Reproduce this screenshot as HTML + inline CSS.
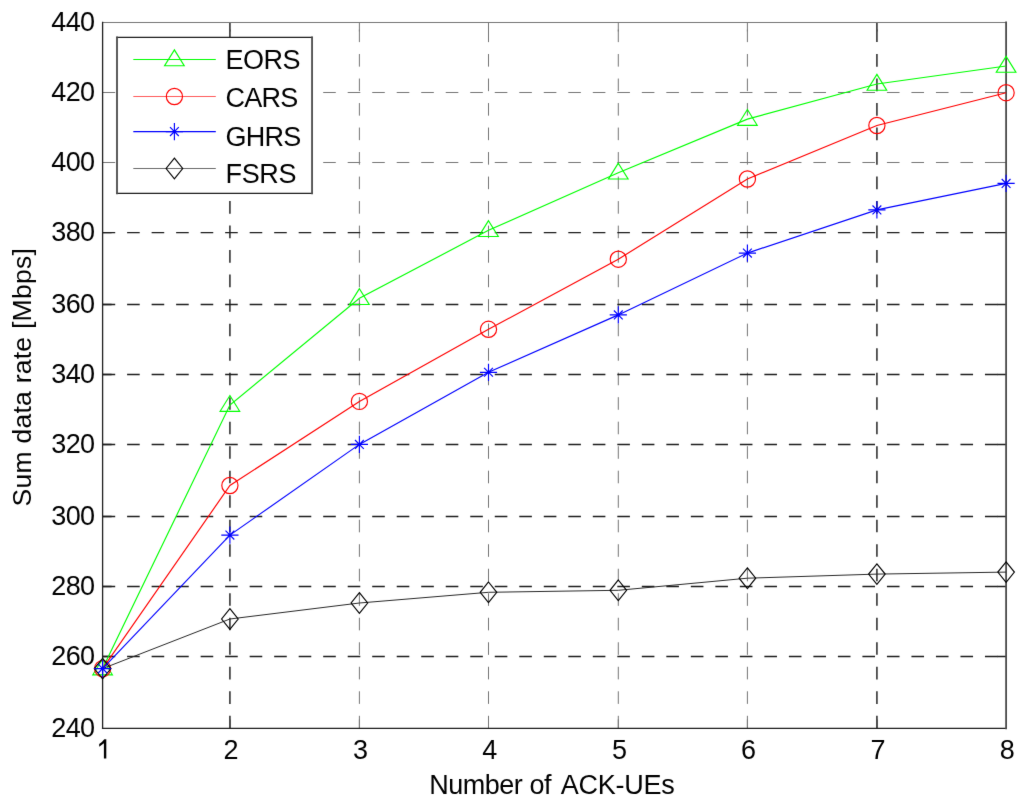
<!DOCTYPE html>
<html><head><meta charset="utf-8"><style>
html,body{margin:0;padding:0;background:#fff;overflow:hidden;}
svg{display:block;}
.t{font-family:"Liberation Sans",sans-serif;font-size:27px;fill:#000;}
</style></head><body>
<svg width="1024" height="805" viewBox="0 0 1024 805">
<defs><filter id="bl" filterUnits="userSpaceOnUse" x="0" y="0" width="1024" height="805" color-interpolation-filters="sRGB"><feConvolveMatrix order="3" kernelMatrix="0.00524 0.06192 0.00524 0.06192 0.73137 0.06192 0.00524 0.06192 0.00524" preserveAlpha="true"/></filter></defs>
<rect width="1024" height="805" fill="#fff"/>
<g filter="url(#bl)">
<rect width="1024" height="805" fill="#fff"/>
<path d="M229.9 728.4V22.5" stroke="#4a4a4a" stroke-width="1.8" stroke-dasharray="12.6 11.91" fill="none"/>
<path d="M229.9 728.4v-9M229.9 22.5v9" stroke="#4a4a4a" stroke-width="1.8" fill="none"/>
<path d="M359.4 728.4V22.5" stroke="#767676" stroke-width="1.0" stroke-dasharray="12.6 11.91" fill="none"/>
<path d="M359.4 728.4v-9M359.4 22.5v9" stroke="#767676" stroke-width="1.0" fill="none"/>
<path d="M488.5 728.4V22.5" stroke="#767676" stroke-width="1.0" stroke-dasharray="12.6 11.91" fill="none"/>
<path d="M488.5 728.4v-9M488.5 22.5v9" stroke="#767676" stroke-width="1.0" fill="none"/>
<path d="M618.3 728.4V22.5" stroke="#767676" stroke-width="1.0" stroke-dasharray="12.6 11.91" fill="none"/>
<path d="M618.3 728.4v-9M618.3 22.5v9" stroke="#767676" stroke-width="1.0" fill="none"/>
<path d="M747.4 728.4V22.5" stroke="#767676" stroke-width="1.0" stroke-dasharray="12.6 11.91" fill="none"/>
<path d="M747.4 728.4v-9M747.4 22.5v9" stroke="#767676" stroke-width="1.0" fill="none"/>
<path d="M876.9 728.4V22.5" stroke="#4a4a4a" stroke-width="1.8" stroke-dasharray="12.6 11.91" fill="none"/>
<path d="M876.9 728.4v-9M876.9 22.5v9" stroke="#4a4a4a" stroke-width="1.8" fill="none"/>
<path d="M102.6 656.5H1006.1" stroke="#1e1e1e" stroke-width="1.3" stroke-dasharray="12.6 11.91" fill="none"/>
<path d="M102.6 656.5h9M1006.1 656.5h-9" stroke="#1e1e1e" stroke-width="1.3" fill="none"/>
<path d="M102.6 586.5H1006.1" stroke="#1e1e1e" stroke-width="1.3" stroke-dasharray="12.6 11.91" fill="none"/>
<path d="M102.6 586.5h9M1006.1 586.5h-9" stroke="#1e1e1e" stroke-width="1.3" fill="none"/>
<path d="M102.6 516.5H1006.1" stroke="#1e1e1e" stroke-width="1.3" stroke-dasharray="12.6 11.91" fill="none"/>
<path d="M102.6 516.5h9M1006.1 516.5h-9" stroke="#1e1e1e" stroke-width="1.3" fill="none"/>
<path d="M102.6 444.5H1006.1" stroke="#1e1e1e" stroke-width="1.3" stroke-dasharray="12.6 11.91" fill="none"/>
<path d="M102.6 444.5h9M1006.1 444.5h-9" stroke="#1e1e1e" stroke-width="1.3" fill="none"/>
<path d="M102.6 374.5H1006.1" stroke="#1e1e1e" stroke-width="1.3" stroke-dasharray="12.6 11.91" fill="none"/>
<path d="M102.6 374.5h9M1006.1 374.5h-9" stroke="#1e1e1e" stroke-width="1.3" fill="none"/>
<path d="M102.6 304.5H1006.1" stroke="#1e1e1e" stroke-width="1.3" stroke-dasharray="12.6 11.91" fill="none"/>
<path d="M102.6 304.5h9M1006.1 304.5h-9" stroke="#1e1e1e" stroke-width="1.3" fill="none"/>
<path d="M102.6 232.6H1006.1" stroke="#1e1e1e" stroke-width="1.3" stroke-dasharray="12.6 11.91" fill="none"/>
<path d="M102.6 232.6h9M1006.1 232.6h-9" stroke="#1e1e1e" stroke-width="1.3" fill="none"/>
<path d="M102.6 162.5H1006.1" stroke="#767676" stroke-width="1.0" stroke-dasharray="12.6 11.91" fill="none"/>
<path d="M102.6 162.5h9M1006.1 162.5h-9" stroke="#767676" stroke-width="1.0" fill="none"/>
<path d="M102.6 92.5H1006.1" stroke="#767676" stroke-width="1.0" stroke-dasharray="12.6 11.91" fill="none"/>
<path d="M102.6 92.5h9M1006.1 92.5h-9" stroke="#767676" stroke-width="1.0" fill="none"/>
<path d="M102.6 22.5H1006.1" stroke="#767676" stroke-width="1.0" fill="none" stroke-linecap="square"/>
<path d="M102.6 728.4H1006.1" stroke="#1e1e1e" stroke-width="1.3" fill="none" stroke-linecap="square"/>
<path d="M102.6 22.5V728.4" stroke="#1e1e1e" stroke-width="1.3" fill="none" stroke-linecap="square"/>
<path d="M1006.1 22.5V728.4" stroke="#4a4a4a" stroke-width="1.8" fill="none" stroke-linecap="square"/>
<polyline points="102.6,668.6 229.9,405.1 359.4,298.3 488.5,230.3 618.3,172.8 747.4,119.1 876.9,84 1006.1,66" fill="none" stroke="#00ff00" stroke-width="1.15"/>
<path d="M102.6 659L112.4 674.8L92.8 674.8Z" fill="none" stroke="#00ff00" stroke-width="1.15" stroke-linejoin="miter"/>
<path d="M229.9 395.5L239.7 411.3L220.1 411.3Z" fill="none" stroke="#00ff00" stroke-width="1.15" stroke-linejoin="miter"/>
<path d="M359.4 288.7L369.2 304.5L349.6 304.5Z" fill="none" stroke="#00ff00" stroke-width="1.15" stroke-linejoin="miter"/>
<path d="M488.5 220.7L498.3 236.5L478.7 236.5Z" fill="none" stroke="#00ff00" stroke-width="1.15" stroke-linejoin="miter"/>
<path d="M618.3 163.2L628.1 179L608.5 179Z" fill="none" stroke="#00ff00" stroke-width="1.15" stroke-linejoin="miter"/>
<path d="M747.4 109.5L757.2 125.3L737.6 125.3Z" fill="none" stroke="#00ff00" stroke-width="1.15" stroke-linejoin="miter"/>
<path d="M876.9 74.4L886.7 90.2L867.1 90.2Z" fill="none" stroke="#00ff00" stroke-width="1.15" stroke-linejoin="miter"/>
<path d="M1006.1 56.4L1015.9 72.2L996.3 72.2Z" fill="none" stroke="#00ff00" stroke-width="1.15" stroke-linejoin="miter"/>
<polyline points="102.6,668.6 229.9,485.5 359.4,401.4 488.5,329.3 618.3,259.2 747.4,179 876.9,125.5 1006.1,92.7" fill="none" stroke="#ff0000" stroke-width="1.15"/>
<circle cx="102.6" cy="668.6" r="8.1" fill="none" stroke="#ff0000" stroke-width="1.15"/>
<circle cx="229.9" cy="485.5" r="8.1" fill="none" stroke="#ff0000" stroke-width="1.15"/>
<circle cx="359.4" cy="401.4" r="8.1" fill="none" stroke="#ff0000" stroke-width="1.15"/>
<circle cx="488.5" cy="329.3" r="8.1" fill="none" stroke="#ff0000" stroke-width="1.15"/>
<circle cx="618.3" cy="259.2" r="8.1" fill="none" stroke="#ff0000" stroke-width="1.15"/>
<circle cx="747.4" cy="179" r="8.1" fill="none" stroke="#ff0000" stroke-width="1.15"/>
<circle cx="876.9" cy="125.5" r="8.1" fill="none" stroke="#ff0000" stroke-width="1.15"/>
<circle cx="1006.1" cy="92.7" r="8.1" fill="none" stroke="#ff0000" stroke-width="1.15"/>
<polyline points="102.6,668.6 229.9,619 359.4,603 488.5,592.3 618.3,590.3 747.4,578.2 876.9,574.1 1006.1,572.1" fill="none" stroke="#2a2a2a" stroke-width="1.0"/>
<path d="M102.6 658.3L110.9 668.6L102.6 678.9L94.3 668.6Z" fill="none" stroke="#000000" stroke-width="1.15"/>
<path d="M229.9 608.7L238.2 619L229.9 629.3L221.6 619Z" fill="none" stroke="#000000" stroke-width="1.15"/>
<path d="M359.4 592.7L367.7 603L359.4 613.3L351.1 603Z" fill="none" stroke="#000000" stroke-width="1.15"/>
<path d="M488.5 582L496.8 592.3L488.5 602.6L480.2 592.3Z" fill="none" stroke="#000000" stroke-width="1.15"/>
<path d="M618.3 580L626.6 590.3L618.3 600.6L610 590.3Z" fill="none" stroke="#000000" stroke-width="1.15"/>
<path d="M747.4 567.9L755.7 578.2L747.4 588.5L739.1 578.2Z" fill="none" stroke="#000000" stroke-width="1.15"/>
<path d="M876.9 563.8L885.2 574.1L876.9 584.4L868.6 574.1Z" fill="none" stroke="#000000" stroke-width="1.15"/>
<path d="M1006.1 561.8L1014.4 572.1L1006.1 582.4L997.8 572.1Z" fill="none" stroke="#000000" stroke-width="1.15"/>
<polyline points="102.6,668.6 229.9,535.1 359.4,444.4 488.5,372.3 618.3,314.9 747.4,253.1 876.9,209.9 1006.1,183.4" fill="none" stroke="#0000ff" stroke-width="1.15"/>
<path d="M94 668.6H111.2M102.6 660V677.2M98.2 664.2L107 673M98.2 673L107 664.2" stroke="#0000ff" stroke-width="1.15" fill="none"/>
<path d="M221.3 535.1H238.5M229.9 526.5V543.7M225.5 530.7L234.3 539.5M225.5 539.5L234.3 530.7" stroke="#0000ff" stroke-width="1.15" fill="none"/>
<path d="M350.8 444.4H368M359.4 435.8V453M355 440L363.8 448.8M355 448.8L363.8 440" stroke="#0000ff" stroke-width="1.15" fill="none"/>
<path d="M479.9 372.3H497.1M488.5 363.7V380.9M484.1 367.9L492.9 376.7M484.1 376.7L492.9 367.9" stroke="#0000ff" stroke-width="1.15" fill="none"/>
<path d="M609.7 314.9H626.9M618.3 306.3V323.5M613.9 310.5L622.7 319.3M613.9 319.3L622.7 310.5" stroke="#0000ff" stroke-width="1.15" fill="none"/>
<path d="M738.8 253.1H756M747.4 244.5V261.7M743 248.7L751.8 257.5M743 257.5L751.8 248.7" stroke="#0000ff" stroke-width="1.15" fill="none"/>
<path d="M868.3 209.9H885.5M876.9 201.3V218.5M872.5 205.5L881.3 214.3M872.5 214.3L881.3 205.5" stroke="#0000ff" stroke-width="1.15" fill="none"/>
<path d="M997.5 183.4H1014.7M1006.1 174.8V192M1001.7 179L1010.5 187.8M1001.7 187.8L1010.5 179" stroke="#0000ff" stroke-width="1.15" fill="none"/>
<rect x="117.0" y="37.4" width="195.05" height="156" fill="#fff"/>
<path d="M117.0 37.4H312.05" stroke="#1e1e1e" stroke-width="1.3" fill="none" stroke-linecap="square"/>
<path d="M117.0 193.4H312.05" stroke="#1e1e1e" stroke-width="1.3" fill="none" stroke-linecap="square"/>
<path d="M117.0 37.4V193.4" stroke="#4a4a4a" stroke-width="1.8" fill="none" stroke-linecap="square"/>
<path d="M312.05 37.4V193.4" stroke="#4a4a4a" stroke-width="1.8" fill="none" stroke-linecap="square"/>
<path d="M133.3 59.5H215.8" stroke="#00ff00" stroke-width="1.15"/>
<path d="M174.4 49.9L184.2 65.7L164.6 65.7Z" fill="none" stroke="#00ff00" stroke-width="1.15" stroke-linejoin="miter"/>
<text x="225.6" y="69.3" class="t" textLength="74.9" lengthAdjust="spacing">EORS</text>
<path d="M133.3 96.5H215.8" stroke="#ff5c5c" stroke-width="1.0"/>
<circle cx="174.4" cy="96.5" r="8.1" fill="none" stroke="#ff0000" stroke-width="1.15"/>
<text x="225.6" y="106.7" class="t" textLength="72.75" lengthAdjust="spacing">CARS</text>
<path d="M133.3 131.6H215.8" stroke="#0000ff" stroke-width="1.15"/>
<path d="M165.8 131.6H183M174.4 123V140.2M170 127.2L178.8 136M170 136L178.8 127.2" stroke="#0000ff" stroke-width="1.15" fill="none"/>
<text x="225.6" y="145.9" class="t" textLength="75.6" lengthAdjust="spacing">GHRS</text>
<path d="M133.3 168.5H215.8" stroke="#6c6c6c" stroke-width="1.0"/>
<path d="M174.4 158.2L182.7 168.5L174.4 178.8L166.1 168.5Z" fill="none" stroke="#000000" stroke-width="1.15"/>
<text x="225.6" y="183.1" class="t" textLength="70.8" lengthAdjust="spacing">FSRS</text>
<text x="95.1" y="736.6" class="t" text-anchor="end" textLength="43.8" lengthAdjust="spacing">240</text>
<text x="95.1" y="664.7" class="t" text-anchor="end" textLength="43.8" lengthAdjust="spacing">260</text>
<text x="95.1" y="594.7" class="t" text-anchor="end" textLength="43.8" lengthAdjust="spacing">280</text>
<text x="95.1" y="524.7" class="t" text-anchor="end" textLength="43.8" lengthAdjust="spacing">300</text>
<text x="95.1" y="452.7" class="t" text-anchor="end" textLength="43.8" lengthAdjust="spacing">320</text>
<text x="95.1" y="382.7" class="t" text-anchor="end" textLength="43.8" lengthAdjust="spacing">340</text>
<text x="95.1" y="312.7" class="t" text-anchor="end" textLength="43.8" lengthAdjust="spacing">360</text>
<text x="95.1" y="240.8" class="t" text-anchor="end" textLength="43.8" lengthAdjust="spacing">380</text>
<text x="95.1" y="170.7" class="t" text-anchor="end" textLength="43.8" lengthAdjust="spacing">400</text>
<text x="95.1" y="100.7" class="t" text-anchor="end" textLength="43.8" lengthAdjust="spacing">420</text>
<text x="95.1" y="30.7" class="t" text-anchor="end" textLength="43.8" lengthAdjust="spacing">440</text>
<path d="M106.3 758.4H103.9V743.2L99.2 746.7V744.0Q102.6 741.8 104.3 739.3H106.3Z" fill="#000"/>
<text x="231.1" y="758.9" class="t" text-anchor="middle">2</text>
<text x="360.6" y="758.9" class="t" text-anchor="middle">3</text>
<text x="489.7" y="758.9" class="t" text-anchor="middle">4</text>
<text x="619.5" y="758.9" class="t" text-anchor="middle">5</text>
<text x="748.6" y="758.9" class="t" text-anchor="middle">6</text>
<text x="878.1" y="758.9" class="t" text-anchor="middle">7</text>
<text x="1007.3" y="758.9" class="t" text-anchor="middle">8</text>
<text x="429.3" y="794" class="t" textLength="93.4" lengthAdjust="spacing">Number</text>
<text x="529.4" y="794" class="t" textLength="22.2" lengthAdjust="spacing">of</text>
<text x="560.8" y="794" class="t" textLength="113.86" lengthAdjust="spacing">ACK-UEs</text>
<text transform="translate(30.8 377.3) rotate(-90)" class="t" style="font-size:26.5px" text-anchor="middle" textLength="258.2" lengthAdjust="spacing">Sum data rate [Mbps]</text>
</g>
</svg>
</body></html>
